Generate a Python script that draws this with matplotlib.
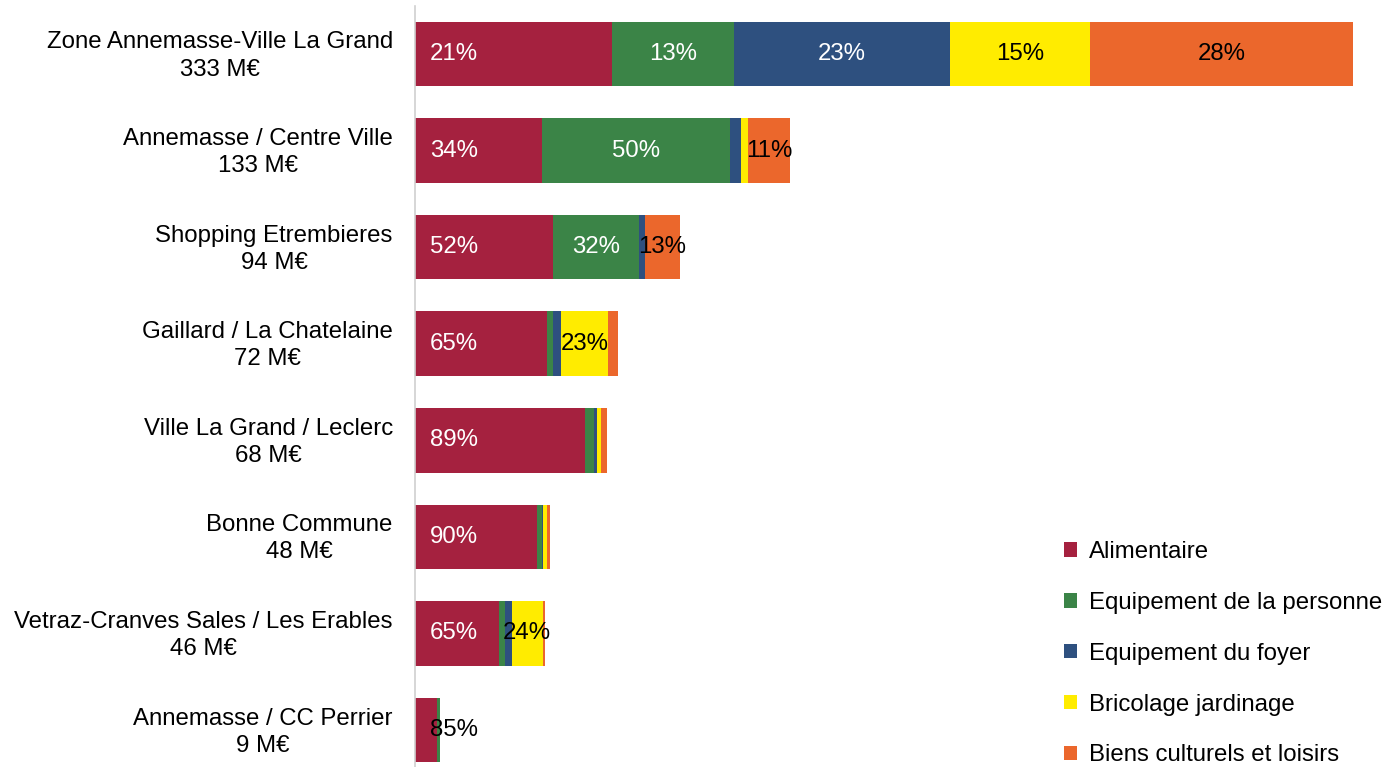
import numpy as np
import matplotlib
matplotlib.use('Agg')
from matplotlib import pyplot as plt
from matplotlib import transforms

plt.rcParams['font.family'] = ['Liberation Sans', 'DejaVu Sans']

zones = ['Zone Annemasse-Ville La Grand', 'Annemasse / Centre Ville', 'Shopping Etrembieres',
         'Gaillard / La Chatelaine', 'Ville La Grand / Leclerc', 'Bonne Commune',
         'Vetraz-Cranves Sales / Les Erables', 'Annemasse / CC Perrier']
totals = [333, 133, 94, 72, 68, 48, 46, 9]  # M€

series = ['Alimentaire', 'Equipement de la personne', 'Equipement du foyer',
          'Bricolage jardinage', 'Biens culturels et loisirs']
# shares in % per zone
alimentaire = [21, 34, 52, 65, 89, 90, 65, 85]
personne = [13, 50, 32.5, 3, 4.5, 4, 4.5, 13]
foyer = [23, 3, 2.5, 4, 1.5, 0.3, 5, 1]
bricolage = [15, 2, 0, 23.3, 2, 3.5, 24, 0.5]
culture = [28, 11, 13, 4.7, 3, 2.2, 1.5, 0.5]

colors = ['#A5213F', '#3B8447', '#2E507F', '#FFEC00', '#EB672C']
txt_colors = ['white', 'white', 'white', 'black', 'black']

shares = np.array([alimentaire, personne, foyer, bricolage, culture])
totals = np.array(totals)
values = shares / shares.sum(axis=0) * totals

fig = plt.figure(figsize=(13.86, 7.67), dpi=100)
ax = fig.add_axes([415 / 1386, -11.3 / 767, 971 / 1386, 772.6 / 767])

y = np.arange(len(zones))
left = np.zeros(len(zones))
for k in range(len(series)):
    ax.barh(y, values[k], left=left, height=0.67, color=colors[k], label=series[k])
    for i in range(len(zones)):
        pct = shares[k, i]
        if pct >= 10 and values[k, i] >= 3:
            lab = '%d%%' % round(pct)
            if k == 0:
                c = 'white' if values[k, i] > 20 else 'black'
                ax.annotate(lab, (0, y[i]), xytext=(15, 0), textcoords='offset pixels',
                            ha='left', va='center', fontsize=17.3, color=c)
            else:
                ax.text(left[i] + values[k, i] / 2, y[i], lab, ha='center', va='center',
                        fontsize=17.3, color=txt_colors[k])
    left = left + values[k]

ax.set_xlim(0, 971 / 2.817)
ax.set_ylim(7.5, -0.5)
ax.set_yticks(y)
ax.set_yticklabels([z + '\n' + str(t) + ' M€' for z, t in zip(zones, totals)],
                   fontsize=17.3, multialignment='center', linespacing=1.3)
ax.tick_params(axis='y', length=0, pad=16)
# nudge category labels up a little
shift = transforms.ScaledTranslation(0, 3 / 100, fig.dpi_scale_trans)
for lbl in ax.get_yticklabels():
    lbl.set_transform(lbl.get_transform() + shift)
ax.set_xticks([])
for s in ['top', 'right', 'bottom']:
    ax.spines[s].set_visible(False)
ax.spines['left'].set_color('#d0d0d0')
ax.spines['left'].set_linewidth(1.2)

leg = fig.legend(loc='upper left', bbox_to_anchor=(1064 / 1386, 1 - 541 / 767), frameon=False,
                 fontsize=17.3, handlelength=0.55, handleheight=0.55, handletextpad=0.5,
                 labelspacing=1.2, borderaxespad=0, borderpad=0)

fig.savefig('out.png', dpi=100)
